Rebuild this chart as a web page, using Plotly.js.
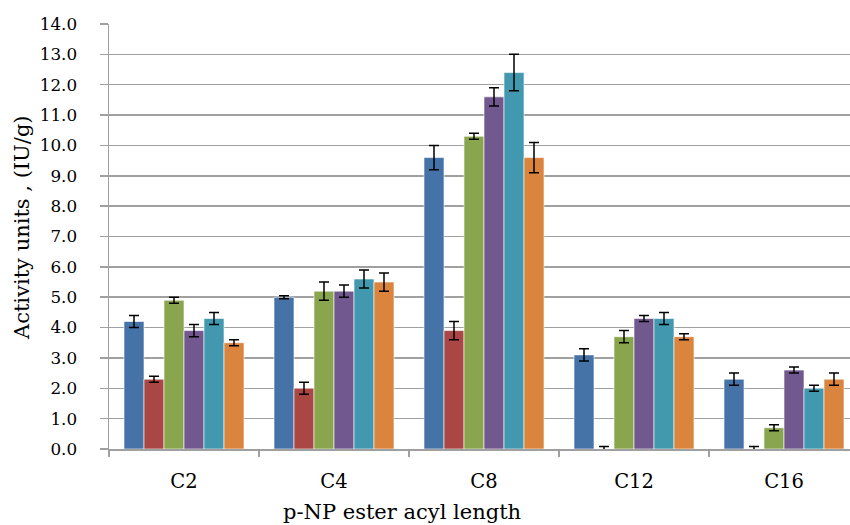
<!DOCTYPE html>
<html>
<head>
<meta charset="utf-8">
<script src="https://cdn.plot.ly/plotly-3.0.1.min.js"></script>
<style>html,body{margin:0;padding:0;background:#fff;}#chart{width:850px;height:525px;}</style>
</head>
<body>
<div id="chart"></div>
<script>
var categories = ["C2", "C4", "C8", "C12", "C16"];
var s1 = [4.2, 5.0, 9.6, 3.1, 2.3];
var s1err = [0.2, 0.05, 0.4, 0.2, 0.2];
var s2 = [2.3, 2.0, 3.9, 0.0, 0.0];
var s2err = [0.1, 0.2, 0.3, 0.08, 0.08];
var s3 = [4.9, 5.2, 10.3, 3.7, 0.7];
var s3err = [0.1, 0.3, 0.1, 0.2, 0.1];
var s4 = [3.9, 5.2, 11.6, 4.3, 2.6];
var s4err = [0.2, 0.2, 0.3, 0.1, 0.1];
var s5 = [4.3, 5.6, 12.4, 4.3, 2.0];
var s5err = [0.2, 0.3, 0.6, 0.2, 0.1];
var s6 = [3.5, 5.5, 9.6, 3.7, 2.3];
var s6err = [0.1, 0.3, 0.5, 0.1, 0.2];

var series = [s1, s2, s3, s4, s5, s6];
var errs = [s1err, s2err, s3err, s4err, s5err, s6err];
var colors = ["#4572A7", "#AA4643", "#89A54E", "#71588F", "#4198AF", "#DB843D"];

var FONT = "DejaVu Serif";
var traces = series.map(function (vals, i) {
  return {
    type: "bar",
    x: categories,
    y: vals,
    marker: { color: colors[i], line: { color: "rgba(255,255,255,0.6)", width: 1 } },
    error_y: { type: "data", array: errs[i], visible: true, color: "#000", thickness: 1.5, width: 5 },
    hoverinfo: "none"
  };
});

var layout = {
  width: 850,
  height: 525,
  margin: { l: 109, r: 0, t: 24, b: 76 },
  paper_bgcolor: "#fff",
  plot_bgcolor: "#fff",
  showlegend: false,
  barmode: "group",
  bargap: 0.2,
  bargroupgap: 0,
  font: { family: FONT, color: "#000", size: 16 },
  xaxis: {
    type: "category",
    range: [-0.5, 4.44],
    showline: true,
    linecolor: "#a0a0a0",
    linewidth: 1.5,
    ticks: "outside",
    tickson: "boundaries",
    ticklen: 6,
    tickcolor: "#a0a0a0",
    tickwidth: 1.5,
    ticklabelstandoff: 14,
    tickfont: { family: FONT, size: 19.5, color: "#000" },
    showgrid: false,
    zeroline: false
  },
  yaxis: {
    range: [0, 14],
    dtick: 1,
    tick0: 0,
    tickformat: ".1f",
    showline: true,
    linecolor: "#a0a0a0",
    linewidth: 1.5,
    ticks: "outside",
    ticklen: 8,
    tickcolor: "#a0a0a0",
    tickwidth: 1.5,
    ticklabelstandoff: 19,
    showgrid: true,
    gridcolor: "#a0a0a0",
    gridwidth: 1.5,
    zeroline: false,
    tickfont: { family: FONT, size: 16.8, color: "#000" }
  },
  annotations: [{
    text: "p-NP ester acyl length",
    xref: "paper", yref: "paper",
    x: (402 - 109) / 741, y: 0,
    yshift: -63,
    xanchor: "center", yanchor: "middle",
    showarrow: false,
    font: { family: FONT, size: 21, color: "#000" }
  }, {
    text: "Activity units , (IU/g)",
    xref: "paper", yref: "paper",
    x: 0, y: (449.3 - 228) / 425.6,
    xshift: -87,
    textangle: -90,
    xanchor: "center", yanchor: "middle",
    showarrow: false,
    font: { family: FONT, size: 21, color: "#000" }
  }]
};

Plotly.newPlot("chart", traces, layout, { displayModeBar: false, staticPlot: true });
</script>
</body>
</html>
